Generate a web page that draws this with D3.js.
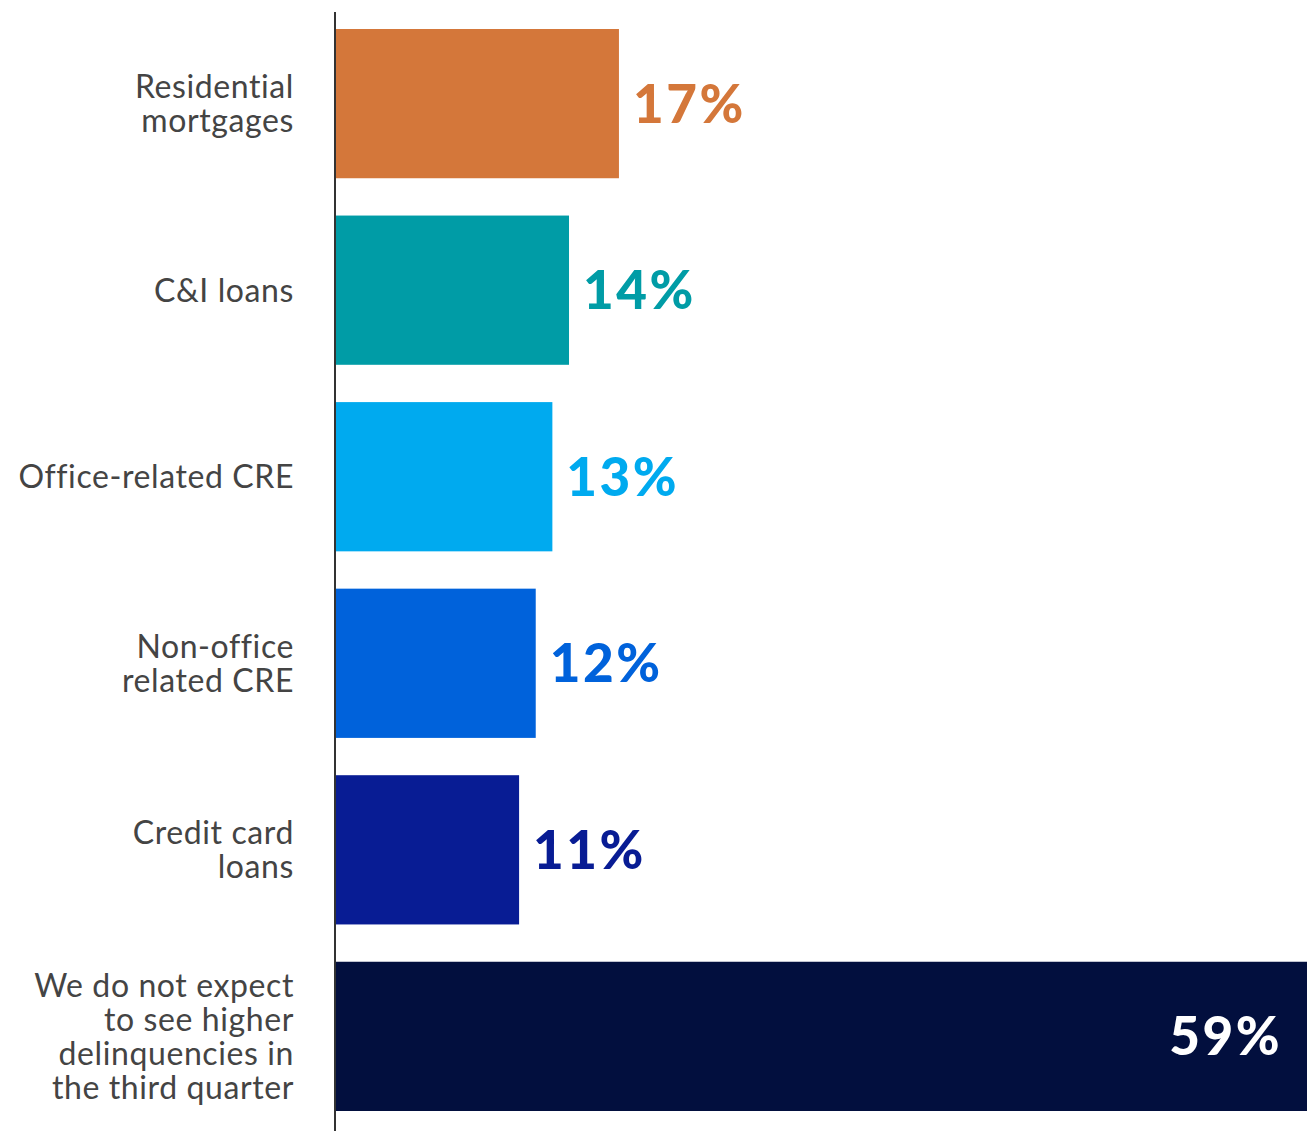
<!DOCTYPE html>
<html>
<head>
<meta charset="utf-8">
<script src="https://cdn.jsdelivr.net/npm/d3@7"></script>
<style>
  html, body { margin: 0; padding: 0; background: #fff; }
  svg { display: block; }
</style>
</head>
<body>
<svg id="chart" width="1307" height="1131"></svg>
<script>
// Loan types where higher delinquencies are expected (share of respondents, %)
const categories = [
  "Residential\nmortgages",
  "C&I loans",
  "Office-related CRE",
  "Non-office\nrelated CRE",
  "Credit card\nloans",
  "We do not expect\nto see higher\ndelinquencies in\nthe third quarter"
];
const values = [17, 14, 13, 12, 11, 59];
const barColors = ["#D4773A", "#009CA6", "#00AAEF", "#0062DB", "#081C94", "#020F3E"];

const svg = d3.select("#chart");
const W = 1307, H = 1131;

const x = d3.scaleLinear().domain([0, 59]).range([336, 1318]);
const y = d3.scaleBand().domain(categories).range([29, 1111]).paddingInner(0.2).paddingOuter(0);

const fontFamily = "Lato, 'Noto Sans', sans-serif";

// bars
svg.append("g").selectAll("rect")
  .data(categories)
  .join("rect")
  .attr("x", x(0))
  .attr("y", d => y(d))
  .attr("width", (d, i) => x(values[i]) - x(0))
  .attr("height", y.bandwidth())
  .attr("fill", (d, i) => barColors[i]);

// axis line
svg.append("line")
  .attr("x1", 335).attr("x2", 335)
  .attr("y1", 12).attr("y2", H)
  .attr("stroke", "#333").attr("stroke-width", 2);

// category labels
const lineH = 34;
svg.append("g").selectAll("text")
  .data(categories)
  .join("text")
  .attr("text-anchor", "end")
  .attr("font-family", fontFamily)
  .attr("font-size", 32)
  .attr("letter-spacing", 0.6)
  .attr("fill", "#444")
  .each(function (d) {
    const lines = d.split("\n");
    const cy = y(d) + y.bandwidth() / 2;
    const t = d3.select(this);
    lines.forEach((ln, k) => {
      t.append("tspan")
        .attr("x", 294)
        .attr("y", cy + (k - (lines.length - 1) / 2) * lineH)
        .attr("dy", "0.36em")
        .text(ln);
    });
  });

// value labels
svg.append("g").selectAll("text")
  .data(categories)
  .join("text")
  .attr("font-family", fontFamily)
  .attr("font-weight", 900)
  .attr("font-size", 53)
  .attr("letter-spacing", 2.5)
  .attr("dy", "0.36em")
  .attr("y", d => y(d) + y.bandwidth() / 2)
  .each(function (d, i) {
    const inside = x(values[i]) > W - 60;
    d3.select(this)
      .attr("x", inside ? W - 25 : x(values[i]) + 14)
      .attr("text-anchor", inside ? "end" : "start")
      .attr("fill", inside ? "#fff" : barColors[i]);
  })
  .text((d, i) => values[i] + "%");
</script>
</body>
</html>
